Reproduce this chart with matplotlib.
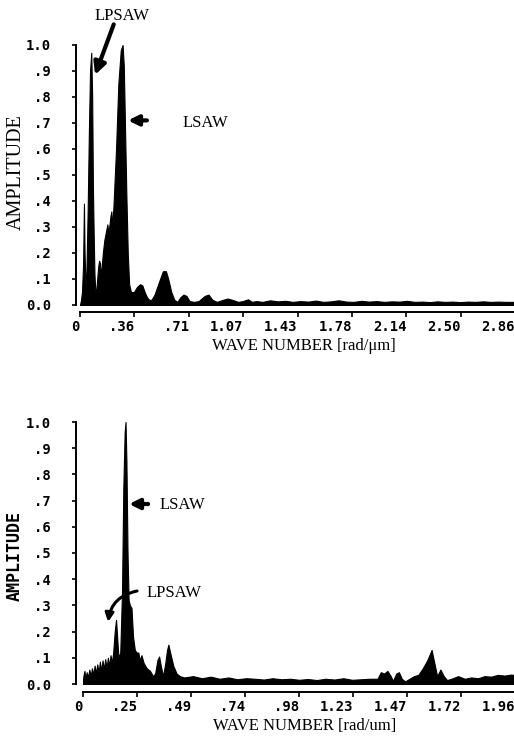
import matplotlib
matplotlib.use("Agg")
import matplotlib.pyplot as plt

# ---------------- data ----------------
top_k = [0.000, 0.007, 0.013, 0.020, 0.026, 0.030, 0.036, 0.042, 0.050, 0.058,
         0.066, 0.074, 0.080, 0.085, 0.090, 0.095, 0.100, 0.106, 0.113, 0.120,
         0.126, 0.132, 0.137, 0.142, 0.150, 0.160, 0.170, 0.180, 0.186, 0.192,
         0.200, 0.206, 0.212, 0.220, 0.237, 0.252, 0.268, 0.280, 0.288, 0.297,
         0.305, 0.314, 0.323, 0.335, 0.355, 0.375, 0.395, 0.410, 0.425, 0.440,
         0.455, 0.470, 0.490, 0.520, 0.545, 0.565, 0.580, 0.600, 0.620, 0.640,
         0.660, 0.680, 0.700, 0.720, 0.750, 0.780, 0.820, 0.845, 0.870, 0.900,
         0.930, 0.970, 1.000, 1.040, 1.070, 1.105, 1.130,
         1.16, 1.20, 1.25, 1.30, 1.35, 1.40, 1.45, 1.50, 1.55, 1.60, 1.65, 1.70,
         1.75, 1.80, 1.85, 1.90, 1.95, 2.00, 2.05, 2.10, 2.15, 2.20, 2.25, 2.30,
         2.35, 2.40, 2.45, 2.50, 2.55, 2.60, 2.65, 2.70, 2.75, 2.80, 2.86]
top_amp = [0.00, 0.02, 0.05, 0.15, 0.39, 0.20, 0.08, 0.12, 0.35, 0.65,
           0.90, 0.97, 0.80, 0.45, 0.27, 0.12, 0.06, 0.05, 0.10, 0.15,
           0.17, 0.16, 0.11, 0.14, 0.20, 0.25, 0.28, 0.31, 0.28, 0.30,
           0.34, 0.36, 0.30, 0.38, 0.60, 0.85, 0.98, 1.00, 0.92, 0.65,
           0.42, 0.20, 0.08, 0.05, 0.05, 0.07, 0.08, 0.075, 0.05, 0.03,
           0.02, 0.02, 0.04, 0.09, 0.13, 0.13, 0.10, 0.05, 0.02, 0.012,
           0.03, 0.04, 0.035, 0.015, 0.012, 0.015, 0.035, 0.04, 0.02, 0.012,
           0.018, 0.025, 0.02, 0.012, 0.015, 0.022, 0.012,
           0.015, 0.012, 0.018, 0.014, 0.016, 0.012, 0.015, 0.013, 0.017, 0.012, 0.014, 0.018,
           0.013, 0.012, 0.016, 0.013, 0.015, 0.012, 0.014, 0.013, 0.016, 0.012, 0.013, 0.011,
           0.014, 0.012, 0.013, 0.011, 0.013, 0.012, 0.014, 0.012, 0.013, 0.012, 0.012]

bot_k = [0.000, 0.003, 0.008, 0.012, 0.018, 0.024, 0.030, 0.036, 0.042, 0.048,
         0.054, 0.060, 0.066, 0.072, 0.078, 0.084, 0.090, 0.096, 0.102, 0.108,
         0.114, 0.120, 0.126, 0.132, 0.138, 0.145, 0.151, 0.156, 0.162, 0.170,
         0.178, 0.184, 0.190, 0.194, 0.198, 0.203, 0.208, 0.214, 0.221, 0.228,
         0.236, 0.244, 0.252, 0.258, 0.266, 0.276, 0.290, 0.305, 0.318, 0.328,
         0.338, 0.346, 0.356, 0.364, 0.374, 0.382, 0.388, 0.396, 0.410, 0.425,
         0.440, 0.46, 0.50, 0.54, 0.58, 0.62, 0.66, 0.70, 0.74, 0.78,
         0.82, 0.86, 0.90, 0.94, 0.98, 1.02, 1.06, 1.10, 1.14, 1.18,
         1.22, 1.26, 1.30, 1.335, 1.350, 1.365, 1.380, 1.395, 1.405, 1.420,
         1.432, 1.445, 1.460, 1.480, 1.500, 1.520, 1.540, 1.560, 1.580, 1.595,
         1.605, 1.620, 1.635, 1.650, 1.670, 1.700, 1.730, 1.760, 1.790, 1.820,
         1.850, 1.880, 1.910, 1.940, 1.960]
bot_amp = [0.00, 0.03, 0.05, 0.02, 0.045, 0.025, 0.055, 0.03, 0.06, 0.035,
           0.07, 0.04, 0.075, 0.045, 0.085, 0.05, 0.09, 0.055, 0.095, 0.06,
           0.10, 0.07, 0.11, 0.08, 0.12, 0.20, 0.245, 0.18, 0.10, 0.12,
           0.35, 0.75, 0.96, 1.00, 0.85, 0.50, 0.32, 0.30, 0.29, 0.18,
           0.13, 0.12, 0.12, 0.09, 0.11, 0.08, 0.06, 0.05, 0.03, 0.04,
           0.09, 0.105, 0.06, 0.03, 0.08, 0.13, 0.15, 0.12, 0.07, 0.04,
           0.03, 0.025, 0.03, 0.022, 0.028, 0.02, 0.025, 0.018, 0.022, 0.02,
           0.017, 0.022, 0.018, 0.02, 0.016, 0.019, 0.015, 0.02, 0.017, 0.022,
           0.016, 0.018, 0.02, 0.02, 0.045, 0.04, 0.05, 0.03, 0.012, 0.04,
           0.045, 0.02, 0.01, 0.02, 0.03, 0.035, 0.06, 0.09, 0.13, 0.07,
           0.03, 0.055, 0.03, 0.015, 0.02, 0.03, 0.02, 0.025, 0.022, 0.03,
           0.028, 0.035, 0.032, 0.036, 0.034]

top_xticks = [0.0, 0.3575, 0.715, 1.0725, 1.43, 1.7875, 2.145, 2.5025, 2.86]
top_xticklabels = ["0", ".36", ".71", "1.07", "1.43", "1.78", "2.14", "2.50", "2.86"]
bot_xticks = [0.0, 0.245, 0.49, 0.735, 0.98, 1.225, 1.47, 1.715, 1.96]
bot_xticklabels = ["0", ".25", ".49", ".74", ".98", "1.23", "1.47", "1.72", "1.96"]
yticks = [0.0, 0.1, 0.2, 0.3, 0.4, 0.5, 0.6, 0.7, 0.8, 0.9, 1.0]
yticklabels = ["0.0", ".1", ".2", ".3", ".4", ".5", ".6", ".7", ".8", ".9", "1.0"]

# ---------------- figure ----------------
W, H = 514, 739
fig = plt.figure(figsize=(W / 100, H / 100), dpi=100)

mono = dict(family="DejaVu Sans Mono", weight="bold", size=10)
serif = "Liberation Serif"


def style_axes(ax, xticks, xlabels, xmax, left_out, bottom_out):
    ax.set_xlim(0, xmax)
    ax.set_ylim(0, 1.0)
    for s in ("top", "right"):
        ax.spines[s].set_visible(False)
    ax.spines["left"].set_position(("outward", left_out))
    ax.spines["bottom"].set_position(("outward", bottom_out))
    ax.spines["left"].set_linewidth(1.4)
    ax.spines["bottom"].set_linewidth(1.4)
    ax.set_xticks(xticks)
    ax.set_xticklabels(xlabels, ha="right", fontdict=mono)
    ax.set_yticks(yticks)
    ax.set_yticklabels(yticklabels, fontdict=mono)
    ax.tick_params(axis="x", direction="out", length=3.5, width=1.2, pad=2.5)
    ax.tick_params(axis="y", direction="out", length=3, width=1.2, pad=15)
    ax.patch.set_visible(False)


# top panel
ax1 = fig.add_axes([80 / W, 1 - 305 / H, 435 / W, 260 / H])
ax1.fill_between(top_k, 0, top_amp, color="black", lw=0.8, edgecolor="black")
style_axes(ax1, top_xticks, top_xticklabels, 2.86, 2.9, 5)
ax1.set_xlabel("WAVE NUMBER [rad/\u03bcm]", family=serif, fontsize=12)
ax1.xaxis.set_label_coords((304 - 80) / 435, -(338 - 305) / 260)
ax1.set_ylabel("AMPLITUDE", family=serif, fontsize=14.5)
ax1.yaxis.set_label_coords(-(80 - 26) / 435, (305 - 172) / 260)

ax1.annotate("LPSAW", xy=(0.099, 0.885), xytext=(0.276, 1.11),
             textcoords="data", ha="center", va="center", family=serif, fontsize=12,
             annotation_clip=False,
             arrowprops=dict(arrowstyle="-|>,head_length=0.6,head_width=0.3", lw=3,
                             color="black", shrinkA=0, shrinkB=0,
                             patchA=None, relpos=(0.35, 0.0)))
ax1.annotate("", xy=(0.316, 0.71), xytext=(0.44, 0.71),
             arrowprops=dict(arrowstyle="-|>,head_length=0.6,head_width=0.3", lw=3,
                             color="black", shrinkA=0, shrinkB=0))
ax1.text(0.675, 0.70, "LSAW", family=serif, fontsize=12, ha="left", va="center")

# bottom panel
ax2 = fig.add_axes([82.7 / W, 1 - 684 / H, 432.8 / W, 262 / H])
ax2.fill_between(bot_k, 0, bot_amp, color="black", lw=0.8, edgecolor="black")
style_axes(ax2, bot_xticks, bot_xticklabels, 1.96, 4.8, 5.8)
ax2.set_xlabel("WAVE NUMBER [rad/um]", family=serif, fontsize=12)
ax2.xaxis.set_label_coords((305 - 82.7) / 432.8, -(718 - 684) / 262)
ax2.set_ylabel("AMPLITUDE", family="DejaVu Sans Mono", weight="bold", fontsize=12)
ax2.yaxis.set_label_coords(-(82.7 - 24) / 432.8, (684 - 556) / 262)

ax2.annotate("", xy=(0.21, 0.687), xytext=(0.296, 0.687),
             arrowprops=dict(arrowstyle="-|>,head_length=0.6,head_width=0.3", lw=3,
                             color="black", shrinkA=0, shrinkB=0))
ax2.text(0.35, 0.683, "LSAW", family=serif, fontsize=12, ha="left", va="center")
ax2.annotate("", xy=(0.115, 0.237), xytext=(0.246, 0.355),
             arrowprops=dict(arrowstyle="-|>,head_length=0.5,head_width=0.25", lw=2.2,
                             color="black", shrinkA=0, shrinkB=0,
                             connectionstyle="arc3,rad=0.35"))
ax2.text(0.287, 0.347, "LPSAW", family=serif, fontsize=12, ha="left", va="center")

fig.savefig("out.png", dpi=100)
